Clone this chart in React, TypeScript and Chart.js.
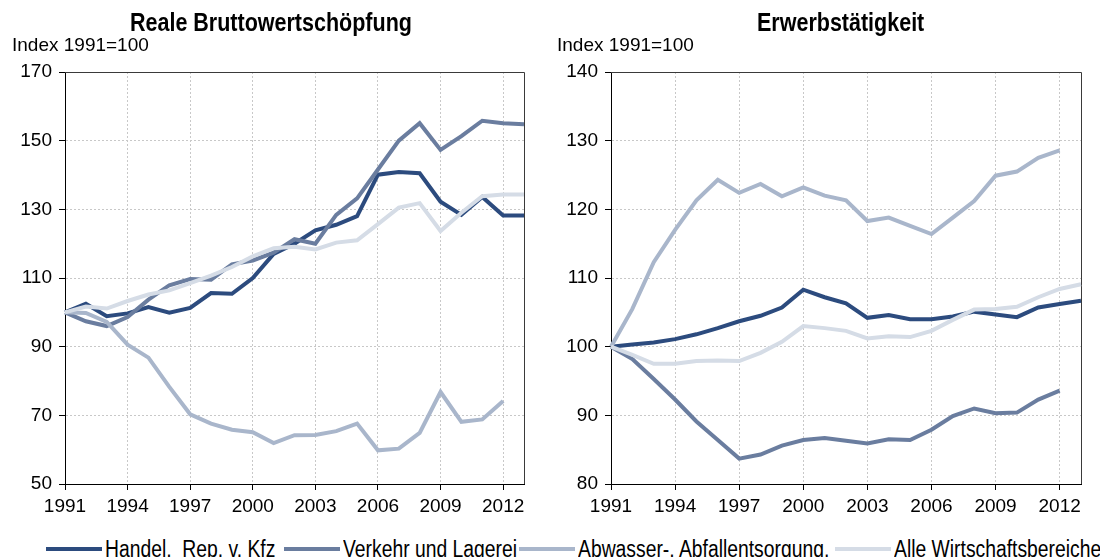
import React, { useEffect, useRef } from 'react';
import { Chart, registerables } from 'chart.js';

Chart.register(...registerables);

const years = ['1991', '1992', '1993', '1994', '1995', '1996', '1997', '1998', '1999', '2000', '2001', '2002', '2003', '2004', '2005', '2006', '2007', '2008', '2009', '2010', '2011', '2012', '2013'];

const seriesNames = ['Handel,  Rep. v. Kfz', 'Verkehr und Lagerei', 'Abwasser-, Abfallentsorgung,', 'Alle Wirtschaftsbereiche'];
const seriesColors = ['#2C4B7E', '#6A7D9F', '#A9B6CB', '#D5DCE6'];

// Reale Bruttowertschöpfung
const bwsHandel = [100, 102.5, 98.9, 99.7, 101.5, 99.9, 101.3, 105.6, 105.4, 110, 117.0, 120.0, 123.9, 125.5, 128, 140.1, 140.9, 140.5, 132.2, 128.4, 133.6, 128.2, 128.2];
const bwsVerkehr = [100, 97.4, 96.0, 98.6, 103.7, 107.9, 109.7, 109.5, 114.0, 115.1, 117.4, 121.3, 120.0, 128.4, 133.2, 141.6, 150.0, 155.1, 147.3, 151.3, 155.8, 155.1, 154.8];
const bwsAbwasser = [100, 99.8, 97.2, 90.6, 86.8, 78.3, 70.3, 67.6, 65.8, 65.1, 61.9, 64.2, 64.3, 65.4, 67.6, 59.8, 60.3, 64.9, 76.8, 68.1, 68.8, 74.2, null];
const bwsAlle = [100, 101.7, 101.1, 103.3, 105.2, 106.4, 108.5, 110.7, 113.2, 116.3, 118.7, 119.1, 118.3, 120.3, 121.0, 125.7, 130.5, 131.8, 123.7, 129.0, 133.8, 134.3, 134.3];

// Erwerbstätigkeit
const etHandel = [100, 100.3, 100.6, 101.1, 101.8, 102.7, 103.7, 104.5, 105.7, 108.3, 107.2, 106.3, 104.2, 104.6, 104.0, 104.0, 104.4, 105.1, 104.7, 104.3, 105.7, 106.2, 106.7];
const etVerkehr = [100, 98.2, 95.3, 92.3, 89.1, 86.4, 83.7, 84.3, 85.6, 86.4, 86.7, 86.3, 85.9, 86.5, 86.4, 87.9, 89.9, 91.0, 90.3, 90.4, 92.3, 93.6, null];
const etAbwasser = [100, 105.5, 112.3, 117.0, 121.3, 124.3, 122.4, 123.7, 121.9, 123.2, 122.0, 121.3, 118.3, 118.8, 117.6, 116.4, 118.8, 121.2, 124.9, 125.5, 127.5, 128.6, null];
const etAlle = [100, 98.8, 97.5, 97.5, 97.9, 98.0, 97.9, 99.1, 100.7, 103.0, 102.7, 102.3, 101.2, 101.5, 101.4, 102.3, 103.9, 105.4, 105.5, 105.8, 107.2, 108.4, 109.1];

const tickFont = { family: '"Liberation Sans", Arial, sans-serif', size: 19 };

const framePlugin = {
  id: 'frame',
  beforeDatasetsDraw(chart: any) {
    const { ctx, chartArea: a } = chart;
    ctx.save();
    ctx.strokeStyle = '#3a3a3a';
    ctx.lineWidth = 1;
    ctx.beginPath();
    ctx.moveTo(a.left, Math.round(a.top) + 0.5);
    ctx.lineTo(Math.round(a.right) + 0.5, Math.round(a.top) + 0.5);
    ctx.lineTo(Math.round(a.right) + 0.5, a.bottom);
    ctx.stroke();
    ctx.restore();
  },
};

type Props = {
  left: number;
  width: number;
  height: number;
  data: (number | null)[][];
  yMin: number;
  yMax: number;
  yStep: number;
  axisWidth: number;
  padRight: number;
  axisHeight: number;
};

function LineChart(p: Props) {
  const ref = useRef<HTMLCanvasElement>(null);
  useEffect(() => {
    if (!ref.current) return;
    const chart = new Chart(ref.current, {
      type: 'line',
      data: {
        labels: years,
        datasets: p.data.map((d, i) => ({
          label: seriesNames[i],
          data: d,
          borderColor: seriesColors[i],
          backgroundColor: seriesColors[i],
          borderWidth: 4,
          pointRadius: 0,
          tension: 0,
          fill: false,
          order: 4 - i,
          spanGaps: false,
        })),
      },
      options: {
        animation: false,
        responsive: false,
        devicePixelRatio: 1,
        layout: { padding: { top: 72, right: p.padRight, left: 0, bottom: 0 } },
        plugins: { legend: { display: false }, tooltip: { enabled: false }, title: { display: false } },
        scales: {
          x: {
            type: 'category',
            offset: false,
            afterFit: (s: any) => { s.height = p.axisHeight; },
            grid: {
              color: (c: any) => (c.index % 3 === 0 ? '#c8c8c8' : 'rgba(0,0,0,0)'),
              tickColor: (c: any) => (c.index % 3 === 0 ? '#000' : 'rgba(0,0,0,0)'),
              tickLength: 6,
              lineWidth: 1,
              tickBorderDash: [],
            },
            border: { color: '#000', width: 1, dash: [2, 2] },
            ticks: {
              autoSkip: false,
              maxRotation: 0,
              color: '#000',
              font: tickFont,
              padding: 5,
              callback: (_v: any, i: number) => (i % 3 === 0 ? years[i] : ''),
            },
          },
          y: {
            min: p.yMin,
            max: p.yMax,
            afterFit: (s: any) => { s.width = p.axisWidth; },
            grid: { color: '#c8c8c8', tickColor: '#000', tickLength: 6, lineWidth: 1, tickBorderDash: [] },
            border: { color: '#000', width: 1, dash: [2, 2] },
            ticks: { stepSize: p.yStep, color: '#000', font: tickFont, padding: 7 },
          },
        },
      },
      plugins: [framePlugin],
    } as any);
    return () => chart.destroy();
  }, []);
  return (
    <canvas
      ref={ref}
      width={p.width}
      height={p.height}
      style={{ position: 'absolute', left: p.left, top: 0, width: p.width, height: p.height }}
    />
  );
}

const textBase: React.CSSProperties = { position: 'absolute', color: '#000', whiteSpace: 'pre', lineHeight: 1 };
const sansFont = '"Liberation Sans", Arial, sans-serif';
const legendLefts = [46, 284, 519, 835];

export default function App() {
  return (
    <div style={{ position: 'absolute', left: 0, top: 0, width: 1100, height: 557, overflow: 'hidden', background: '#fff' }}>
      <LineChart left={0} width={545} height={525} data={[bwsHandel, bwsVerkehr, bwsAbwasser, bwsAlle]} yMin={50} yMax={170} yStep={20} axisWidth={65} padRight={21} axisHeight={41} />
      <LineChart left={545} width={555} height={525} data={[etHandel, etVerkehr, etAbwasser, etAlle]} yMin={80} yMax={140} yStep={10} axisWidth={66} padRight={19} axisHeight={41} />
      <div style={{ ...textBase, left: 130, top: 10, fontFamily: sansFont, fontWeight: 'bold', fontSize: 25, transform: 'scaleX(0.86)', transformOrigin: 'left top' }}>Reale Bruttowertschöpfung</div>
      <div style={{ ...textBase, left: 757, top: 10, fontFamily: sansFont, fontWeight: 'bold', fontSize: 25, transform: 'scaleX(0.86)', transformOrigin: 'left top' }}>Erwerbstätigkeit</div>
      <div style={{ ...textBase, left: 12, top: 35, fontFamily: sansFont, fontSize: 19 }}>Index 1991=100</div>
      <div style={{ ...textBase, left: 557, top: 35, fontFamily: sansFont, fontSize: 19 }}>Index 1991=100</div>
      {seriesNames.map((n, i) => (
        <div key={n} style={{ position: 'absolute', left: legendLefts[i], top: 537, height: 24, display: 'flex', alignItems: 'center' }}>
          <div style={{ width: 56, height: 4, background: seriesColors[i] }} />
          <div style={{ ...textBase, position: 'static', marginLeft: 3, fontFamily: sansFont, fontSize: 23, transform: 'scaleX(0.84)', transformOrigin: 'left center' }}>{n}</div>
        </div>
      ))}
    </div>
  );
}
